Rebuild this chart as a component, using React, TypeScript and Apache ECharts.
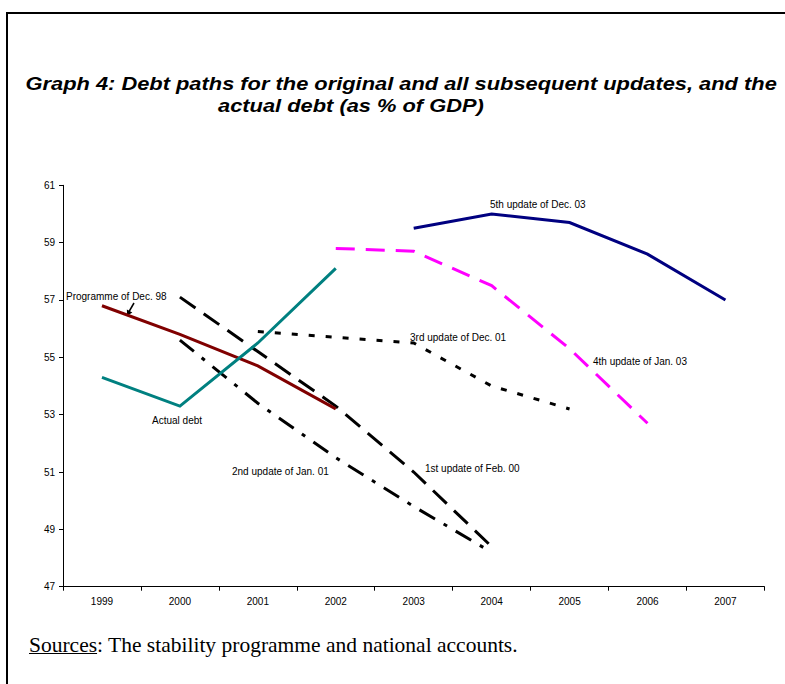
import React, { useEffect, useRef } from "react";
import * as echarts from "echarts";

const years = ["1999", "2000", "2001", "2002", "2003", "2004", "2005", "2006", "2007"];
const yTicks = { min: 47, max: 61, interval: 2 };

const actualDebt = [54.3, 53.3, 55.5, 58.1, null, null, null, null, null];
const programmeDec98 = [56.8, 55.8, 54.7, 53.2, null, null, null, null, null];
const update1Feb00 = [null, 57.1, 55.2, 53.3, 51.0, 48.4, null, null, null];
const update2Jan01 = [null, 55.6, 53.4, 51.5, 49.8, 48.2, null, null, null];
const update3Dec01 = [null, null, 55.9, 55.7, 55.5, 54.0, 53.2, null, null];
const update4Jan03 = [null, null, null, 58.8, 58.7, 57.5, 55.3, 52.7, null];
const update5Dec03 = [null, null, null, null, 59.5, 60.0, 59.7, 58.6, 57.0];

const titleLine1 = "Graph 4: Debt paths for the original and all subsequent updates, and the";
const titleLine2 = "actual debt (as % of GDP)";
const sourcesWord = "Sources";
const sourcesRest = ": The stability programme and national accounts.";

const seriesLabels = {
  programme: "Programme of Dec. 98",
  actual: "Actual debt",
  u1: "1st update of Feb. 00",
  u2: "2nd update of Jan. 01",
  u3: "3rd update of Dec. 01",
  u4: "4th update of Jan. 03",
  u5: "5th update of Dec. 03",
};

const SANS = '"Liberation Sans", Arial, sans-serif';
const SERIF = '"Liberation Serif", "Times New Roman", serif';

function measure(text: string, font: string): number {
  const c = document.createElement("canvas");
  const ctx = c.getContext("2d");
  if (!ctx) return text.length * 9;
  ctx.font = font;
  return ctx.measureText(text).width;
}

function label(text: string, x: number, y: number) {
  return {
    type: "text",
    x,
    y,
    silent: true,
    style: {
      text,
      font: `10px ${SANS}`,
      fill: "#000",
      textAlign: "left",
      textVerticalAlign: "middle",
      align: "left",
      verticalAlign: "middle",
    },
  };
}

export default function App() {
  const ref = useRef<HTMLDivElement>(null);

  useEffect(() => {
    if (!ref.current) return;
    const chart = echarts.init(ref.current, undefined, { renderer: "svg" });

    const titleFont = `italic bold 19px ${SANS}`;
    const titleScale = 1.15;
    const title1W = measure(titleLine1, titleFont) * titleScale;
    const title1X = 777 - title1W;
    const srcFont = `21.5px ${SERIF}`;
    const srcX = 29;
    const srcWordW = measure(sourcesWord, srcFont);

    const line = (name: string, data: (number | null)[], color: string, type: any) => ({
      name,
      type: "line",
      data,
      symbol: "none",
      connectNulls: false,
      z: 3,
      lineStyle: { color, width: 3, type, cap: "butt", join: "miter" },
    });

    chart.setOption({
      animation: false,
      backgroundColor: "#fff",
      grid: { left: 63, top: 185.3, right: 20.6, bottom: 97.3, containLabel: false },
      xAxis: {
        type: "category",
        data: years,
        boundaryGap: true,
        axisLine: { lineStyle: { color: "#000", width: 1 } },
        axisTick: { show: true, length: 4, inside: false, lineStyle: { color: "#000" } },
        axisLabel: { fontSize: 10, color: "#000", fontFamily: SANS, margin: 10 },
        splitLine: { show: false },
      },
      yAxis: {
        type: "value",
        min: yTicks.min,
        max: yTicks.max,
        interval: yTicks.interval,
        axisLine: { show: true, lineStyle: { color: "#000", width: 1 } },
        axisTick: { show: true, length: 4, inside: false, lineStyle: { color: "#000" } },
        axisLabel: { fontSize: 10, color: "#000", fontFamily: SANS, margin: 8 },
        splitLine: { show: false },
      },
      series: [
        line(seriesLabels.u1, update1Feb00, "#000000", [19, 10]),
        line(seriesLabels.u2, update2Jan01, "#000000", [18, 10, 4, 10]),
        line(seriesLabels.u3, update3Dec01, "#000000", [6, 11]),
        line(seriesLabels.u4, update4Jan03, "#FF00FF", [19, 11]),
        line(seriesLabels.u5, update5Dec03, "#000080", "solid"),
        line(seriesLabels.programme, programmeDec98, "#800000", "solid"),
        line(seriesLabels.actual, actualDebt, "#008080", "solid"),
      ],
      graphic: [
        { type: "line", silent: true, shape: { x1: 6, y1: 13, x2: 785, y2: 13 }, style: { stroke: "#000", lineWidth: 2 } },
        { type: "line", silent: true, shape: { x1: 7, y1: 12, x2: 7, y2: 684 }, style: { stroke: "#000", lineWidth: 2 } },
        {
          type: "text", x: title1X, y: 83, scaleX: titleScale, silent: true,
          style: { text: titleLine1, font: titleFont, fill: "#000", textAlign: "left", textVerticalAlign: "middle", align: "left", verticalAlign: "middle" },
        },
        {
          type: "text", x: 218, y: 105, scaleX: titleScale, silent: true,
          style: { text: titleLine2, font: titleFont, fill: "#000", textAlign: "left", textVerticalAlign: "middle", align: "left", verticalAlign: "middle" },
        },
        label(seriesLabels.programme, 66, 296),
        label(seriesLabels.actual, 152, 420),
        label(seriesLabels.u2, 232, 471),
        label(seriesLabels.u1, 425, 468),
        label(seriesLabels.u3, 410, 337),
        label(seriesLabels.u4, 593, 361),
        label(seriesLabels.u5, 490, 204),
        { type: "line", silent: true, shape: { x1: 134, y1: 303, x2: 128.5, y2: 312.5 }, style: { stroke: "#000", lineWidth: 1.5 } },
        { type: "polygon", silent: true, shape: { points: [[127, 316], [132.3, 312.5], [126.9, 309.5]] }, style: { fill: "#000" } },
        {
          type: "text", x: srcX, y: 645, silent: true,
          style: { text: sourcesWord + sourcesRest, font: srcFont, fill: "#000", textAlign: "left", textVerticalAlign: "middle", align: "left", verticalAlign: "middle" },
        },
        { type: "line", silent: true, shape: { x1: srcX, y1: 653.5, x2: srcX + srcWordW, y2: 653.5 }, style: { stroke: "#000", lineWidth: 1 } },
      ],
    });

    return () => chart.dispose();
  }, []);

  return (
    <div
      ref={ref}
      style={{ position: "absolute", left: 0, top: 0, width: 785, height: 684, background: "#fff" }}
    />
  );
}
